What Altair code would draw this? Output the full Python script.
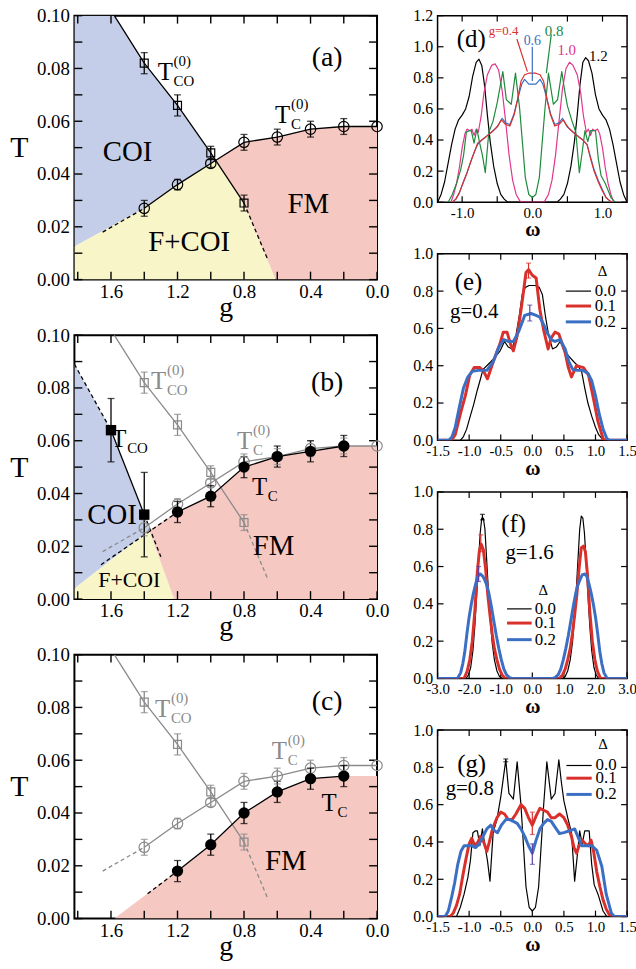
import altair as alt
import pandas as pd

FONT = "Liberation Serif"
BLACK = "#000000"
GRAY = "#8a8a8a"
REG_BLUE = "#c5cee8"
REG_YEL = "#f8f5c9"
REG_PINK = "#f6c8c2"
RED = "#d9302c"
BLUE = "#3b6fc4"
GREEN = "#1e8a3c"
MAGENTA = "#e2358d"
PURPLE = "#5a3ea6"

LW, LH = 305, 266
RW, RH = 191, 188
G_MAX = 1.82

# ---------------- data: phase diagrams (a)-(c) ----------------
tco0_g = [1.4, 1.2, 1.0, 0.8]
tco0_T = [0.082, 0.066, 0.048, 0.029]
tco0_err = [0.004, 0.004, 0.0025, 0.003]
tco0_top = [(1.58, 0.100)]
tco0_tail = [(0.8, 0.029), (0.66, 0.008)]

tc0_g = [1.4, 1.2, 1.0, 0.8, 0.6, 0.4, 0.2, 0.0]
tc0_T = [0.027, 0.036, 0.044, 0.052, 0.054, 0.057, 0.058, 0.058]
tc0_err = [0.003, 0.002, 0.0015, 0.003, 0.003, 0.003, 0.003, 0.0]
tc0_tail = [(1.4, 0.027), (1.65, 0.018)]

tco_b_g = [1.6, 1.4]
tco_b_T = [0.064, 0.032]
tco_b_err = [0.012, 0.016]
tco_b_up = [(1.82, 0.089), (1.6, 0.064)]
tco_b_down = [(1.4, 0.032), (1.30, 0.016)]

tc_b_g = [1.2, 1.0, 0.8, 0.6, 0.4, 0.2]
tc_b_T = [0.033, 0.039, 0.050, 0.054, 0.056, 0.058]
tc_b_err = [0.004, 0.004, 0.004, 0.004, 0.004, 0.004]
tc_b_tail = [(1.2, 0.033), (1.66, 0.013)]

tc_c_g = [1.2, 1.0, 0.8, 0.6, 0.4, 0.2]
tc_c_T = [0.018, 0.028, 0.040, 0.048, 0.053, 0.054]
tc_c_err = [0.004, 0.004, 0.004, 0.004, 0.004, 0.004]
tc_c_tail = [(1.2, 0.018), (1.38, 0.0094)]

# phase regions: (g, upper T, lower T)
reg_a_blue = [(1.82, 0.100, 0.0125), (1.58, 0.100, 0.0208), (1.40, 0.082, 0.027),
              (1.20, 0.066, 0.036), (1.00, 0.048, 0.044), (0.97, 0.0452, 0.0452)]
reg_a_yel = [(1.82, 0.0125, 0), (1.40, 0.027, 0), (1.20, 0.036, 0), (1.00, 0.044, 0),
             (0.97, 0.0452, 0), (0.80, 0.029, 0), (0.61, 0.0, 0)]
reg_a_pink = [(0.97, 0.0452, 0.0452), (0.80, 0.052, 0.029), (0.61, 0.0539, 0.0),
              (0.60, 0.054, 0), (0.40, 0.057, 0), (0.20, 0.058, 0), (0.0, 0.058, 0)]
reg_b_blue = [(1.82, 0.089, 0.004), (1.60, 0.064, 0.0148), (1.40, 0.032, 0.0245), (1.37, 0.026, 0.026)]
reg_b_yel = [(1.82, 0.004, 0), (1.37, 0.026, 0), (1.22, 0.0, 0)]
reg_b_pink = [(1.37, 0.026, 0.026), (1.22, 0.0322, 0), (1.20, 0.033, 0), (1.00, 0.039, 0),
              (0.80, 0.050, 0), (0.60, 0.054, 0), (0.40, 0.056, 0), (0.20, 0.058, 0), (0.0, 0.058, 0)]
reg_c_pink = [(1.58, 0.0, 0), (1.20, 0.018, 0), (1.00, 0.028, 0), (0.80, 0.040, 0),
              (0.60, 0.048, 0), (0.40, 0.053, 0), (0.20, 0.054, 0), (0.0, 0.054, 0)]

# T labels: (g, T baseline, colour, subscript, superscript)
a_T = [(1.319, 0.0755, BLACK, "CO", "(0)"), (0.613, 0.0592, BLACK, "C", "(0)")]
b_T = [(1.359, 0.0795, GRAY, "CO", "(0)"), (1.598, 0.0575, BLACK, "CO", ""),
       (0.842, 0.0569, GRAY, "C", "(0)"), (0.752, 0.0394, BLACK, "C", "")]
c_T = [(1.335, 0.0763, GRAY, "CO", "(0)"), (0.633, 0.0606, GRAY, "C", "(0)"),
       (0.334, 0.0406, BLACK, "C", "")]
a_lab = [(1.50, 0.0484, "COI", 29), (1.13, 0.0143, "F+COI", 29), (0.414, 0.0288, "FM", 29), (0.30, 0.0838, "(a)", 28)]
b_lab = [(1.594, 0.0319, "COI", 29), (1.49, 0.0072, "F+COI", 22), (0.623, 0.020, "FM", 29), (0.30, 0.082, "(b)", 28)]
c_lab = [(0.549, 0.0219, "FM", 29), (0.30, 0.082, "(c)", 28)]

# ---------------- data: spectral functions (d)-(g) ----------------
d_g12 = [(-1.35, 0.00), (-1.30, 0.05), (-1.25, 0.13), (-1.20, 0.25), (-1.15, 0.37), (-1.10, 0.47),
         (-1.05, 0.53), (-1.00, 0.56), (-0.95, 0.60), (-0.90, 0.68), (-0.85, 0.81), (-0.80, 0.90),
         (-0.76, 0.92), (-0.72, 0.88), (-0.68, 0.75), (-0.64, 0.56), (-0.60, 0.39), (-0.55, 0.23),
         (-0.50, 0.12), (-0.45, 0.05), (-0.40, 0.02), (-0.35, 0.00), (0.35, 0.00), (0.40, 0.02),
         (0.45, 0.05), (0.50, 0.12), (0.55, 0.23), (0.60, 0.39), (0.64, 0.56), (0.68, 0.76),
         (0.72, 0.90), (0.76, 0.93), (0.80, 0.91), (0.85, 0.83), (0.90, 0.69), (0.95, 0.60),
         (1.00, 0.56), (1.05, 0.53), (1.10, 0.47), (1.15, 0.37), (1.20, 0.25), (1.25, 0.13),
         (1.30, 0.05), (1.35, 0.00)]
d_g10 = [(-1.16, 0.00), (-1.12, 0.05), (-1.08, 0.12), (-1.04, 0.22), (-1.00, 0.35), (-0.96, 0.44),
         (-0.93, 0.47), (-0.89, 0.46), (-0.86, 0.47), (-0.83, 0.43), (-0.80, 0.47), (-0.77, 0.45),
         (-0.73, 0.55), (-0.69, 0.70), (-0.64, 0.82), (-0.58, 0.88), (-0.53, 0.89), (-0.48, 0.85),
         (-0.43, 0.72), (-0.38, 0.52), (-0.33, 0.30), (-0.28, 0.14), (-0.23, 0.05), (-0.18, 0.01),
         (-0.15, 0.00), (0.15, 0.00), (0.18, 0.01), (0.23, 0.05), (0.28, 0.14), (0.33, 0.30),
         (0.38, 0.52), (0.43, 0.73), (0.48, 0.86), (0.53, 0.90), (0.58, 0.88), (0.64, 0.82),
         (0.69, 0.70), (0.73, 0.55), (0.77, 0.45), (0.80, 0.47), (0.83, 0.43), (0.86, 0.47),
         (0.89, 0.46), (0.93, 0.47), (0.96, 0.44), (1.00, 0.35), (1.04, 0.22), (1.08, 0.12),
         (1.12, 0.05), (1.16, 0.00)]
g08_d0 = [(-1.20, 0.00), (-1.14, 0.05), (-1.08, 0.12), (-1.02, 0.21), (-0.98, 0.30), (-0.94, 0.45),
          (-0.90, 0.46), (-0.87, 0.46), (-0.83, 0.38), (-0.79, 0.47), (-0.75, 0.38), (-0.71, 0.30),
          (-0.67, 0.19), (-0.62, 0.45), (-0.56, 0.52), (-0.50, 0.64), (-0.46, 0.74), (-0.42, 0.84),
          (-0.37, 0.66), (-0.30, 0.63), (-0.24, 0.83), (-0.18, 0.60), (-0.14, 0.38), (-0.10, 0.16),
          (-0.05, 0.05), (0.00, 0.03), (0.05, 0.05), (0.10, 0.16), (0.14, 0.38), (0.18, 0.60),
          (0.23, 0.83), (0.30, 0.63), (0.36, 0.66), (0.42, 0.84), (0.46, 0.72), (0.50, 0.62),
          (0.56, 0.53), (0.62, 0.45), (0.67, 0.19), (0.71, 0.32), (0.75, 0.46), (0.79, 0.39),
          (0.83, 0.46), (0.87, 0.46), (0.90, 0.46), (0.94, 0.28), (0.98, 0.17), (1.04, 0.12),
          (1.12, 0.03), (1.18, 0.00)]
g06_d0 = [(-1.14, 0.00), (-1.09, 0.02), (-1.04, 0.06), (-0.99, 0.12), (-0.93, 0.19), (-0.87, 0.27),
          (-0.82, 0.33), (-0.78, 0.37), (-0.72, 0.40), (-0.64, 0.43), (-0.56, 0.46), (-0.49, 0.49),
          (-0.43, 0.54), (-0.38, 0.51), (-0.32, 0.50), (-0.26, 0.57), (-0.20, 0.68), (-0.15, 0.76),
          (-0.11, 0.79), (-0.05, 0.76), (0.00, 0.76), (0.05, 0.76), (0.11, 0.79), (0.15, 0.76),
          (0.20, 0.68), (0.26, 0.57), (0.32, 0.50), (0.38, 0.51), (0.43, 0.54), (0.49, 0.49),
          (0.56, 0.46), (0.64, 0.43), (0.72, 0.40), (0.78, 0.37), (0.83, 0.29), (0.88, 0.21),
          (0.94, 0.14), (1.00, 0.08), (1.05, 0.03), (1.10, 0.01), (1.14, 0.00)]
g04_d0 = [(-1.14, 0.00), (-1.09, 0.02), (-1.04, 0.06), (-0.99, 0.12), (-0.93, 0.19), (-0.87, 0.27),
          (-0.82, 0.33), (-0.78, 0.38), (-0.72, 0.40), (-0.66, 0.42), (-0.58, 0.45), (-0.51, 0.48),
          (-0.44, 0.53), (-0.38, 0.50), (-0.32, 0.49), (-0.26, 0.56), (-0.21, 0.66), (-0.16, 0.78),
          (-0.11, 0.82), (-0.05, 0.83), (0.00, 0.83), (0.05, 0.83), (0.11, 0.82), (0.16, 0.78),
          (0.21, 0.66), (0.26, 0.56), (0.32, 0.49), (0.38, 0.50), (0.44, 0.53), (0.51, 0.48),
          (0.58, 0.45), (0.66, 0.42), (0.72, 0.40), (0.78, 0.37), (0.83, 0.28), (0.88, 0.20),
          (0.94, 0.13), (1.00, 0.07), (1.05, 0.03), (1.10, 0.01), (1.14, 0.00)]
e_d1 = [(-1.50, 0.00), (-1.28, 0.00), (-1.22, 0.03), (-1.14, 0.14), (-1.06, 0.24), (-0.99, 0.35),
        (-0.92, 0.39), (-0.83, 0.39), (-0.77, 0.37), (-0.71, 0.33), (-0.62, 0.42), (-0.51, 0.52),
        (-0.46, 0.58), (-0.40, 0.58), (-0.34, 0.51), (-0.30, 0.48), (-0.24, 0.56), (-0.17, 0.72),
        (-0.10, 0.90), (-0.06, 0.915), (0.00, 0.885), (0.06, 0.87), (0.12, 0.70), (0.18, 0.59),
        (0.25, 0.49), (0.30, 0.55), (0.36, 0.58), (0.42, 0.57), (0.47, 0.52), (0.52, 0.47),
        (0.57, 0.39), (0.62, 0.34), (0.70, 0.40), (0.81, 0.39), (0.89, 0.35), (0.97, 0.22),
        (1.04, 0.10), (1.12, 0.01), (1.16, 0.00), (1.50, 0.00)]
e_d2 = [(-1.50, 0.00), (-1.32, 0.00), (-1.27, 0.02), (-1.22, 0.07), (-1.16, 0.17), (-1.09, 0.28),
        (-1.02, 0.34), (-0.95, 0.37), (-0.85, 0.375), (-0.72, 0.375), (-0.62, 0.42), (-0.53, 0.50),
        (-0.45, 0.54), (-0.38, 0.53), (-0.30, 0.53), (-0.22, 0.58), (-0.12, 0.67), (-0.02, 0.68),
        (0.06, 0.67), (0.12, 0.66), (0.18, 0.62), (0.23, 0.58), (0.30, 0.54), (0.36, 0.53),
        (0.44, 0.54), (0.52, 0.49), (0.58, 0.42), (0.64, 0.38), (0.72, 0.375), (0.80, 0.375),
        (0.88, 0.36), (0.94, 0.32), (1.00, 0.24), (1.06, 0.14), (1.12, 0.06), (1.18, 0.01),
        (1.22, 0.00), (1.50, 0.00)]
f_d0 = [(-3.00, 0.00), (-2.10, 0.00), (-2.02, 0.02), (-1.95, 0.06), (-1.88, 0.15), (-1.82, 0.28),
        (-1.76, 0.45), (-1.70, 0.64), (-1.65, 0.78), (-1.60, 0.86), (-1.55, 0.86), (-1.50, 0.80),
        (-1.45, 0.65), (-1.40, 0.50), (-1.34, 0.33), (-1.27, 0.19), (-1.20, 0.10), (-1.12, 0.04),
        (-1.04, 0.01), (-0.96, 0.00), (0.96, 0.00), (1.04, 0.01), (1.12, 0.04), (1.20, 0.10),
        (1.27, 0.19), (1.34, 0.33), (1.40, 0.50), (1.45, 0.65), (1.50, 0.80), (1.55, 0.87),
        (1.60, 0.86), (1.65, 0.78), (1.70, 0.64), (1.76, 0.45), (1.82, 0.28), (1.88, 0.15),
        (1.95, 0.06), (2.02, 0.02), (2.10, 0.00), (3.00, 0.00)]
f_d1 = [(-3.00, 0.00), (-2.16, 0.00), (-2.06, 0.04), (-1.98, 0.10), (-1.90, 0.20), (-1.82, 0.36),
        (-1.75, 0.55), (-1.68, 0.68), (-1.62, 0.72), (-1.55, 0.69), (-1.48, 0.59), (-1.41, 0.45),
        (-1.34, 0.34), (-1.27, 0.24), (-1.20, 0.16), (-1.12, 0.10), (-1.04, 0.05), (-0.96, 0.02),
        (-0.86, 0.00), (0.86, 0.00), (0.96, 0.02), (1.04, 0.05), (1.12, 0.10), (1.20, 0.16),
        (1.27, 0.24), (1.34, 0.34), (1.41, 0.45), (1.48, 0.59), (1.55, 0.70), (1.62, 0.71),
        (1.68, 0.68), (1.75, 0.55), (1.82, 0.36), (1.90, 0.20), (1.98, 0.10), (2.06, 0.04),
        (2.16, 0.00), (3.00, 0.00)]
f_d2 = [(-3.00, 0.00), (-2.37, 0.00), (-2.27, 0.03), (-2.20, 0.08), (-2.14, 0.14), (-2.07, 0.24),
        (-2.00, 0.33), (-1.93, 0.40), (-1.86, 0.46), (-1.79, 0.51), (-1.72, 0.55), (-1.65, 0.56),
        (-1.58, 0.55), (-1.51, 0.53), (-1.44, 0.50), (-1.38, 0.46), (-1.30, 0.39), (-1.22, 0.31),
        (-1.14, 0.23), (-1.06, 0.16), (-0.98, 0.10), (-0.90, 0.05), (-0.82, 0.02), (-0.72, 0.005),
        (-0.64, 0.00), (0.64, 0.00), (0.72, 0.005), (0.82, 0.02), (0.90, 0.05), (0.98, 0.10),
        (1.06, 0.16), (1.14, 0.23), (1.22, 0.31), (1.30, 0.39), (1.38, 0.46), (1.44, 0.50),
        (1.51, 0.53), (1.58, 0.555), (1.65, 0.56), (1.72, 0.55), (1.79, 0.51), (1.86, 0.46),
        (1.93, 0.40), (2.00, 0.33), (2.07, 0.24), (2.14, 0.14), (2.20, 0.08), (2.27, 0.03),
        (2.37, 0.00), (3.00, 0.00)]
g_d1 = [(-1.50, 0.00), (-1.30, 0.00), (-1.25, 0.02), (-1.20, 0.06), (-1.15, 0.12), (-1.10, 0.22),
        (-1.05, 0.31), (-1.00, 0.39), (-0.96, 0.42), (-0.91, 0.38), (-0.86, 0.40), (-0.82, 0.43),
        (-0.77, 0.40), (-0.72, 0.35), (-0.68, 0.40), (-0.63, 0.47), (-0.56, 0.53), (-0.50, 0.56),
        (-0.44, 0.55), (-0.38, 0.52), (-0.32, 0.52), (-0.26, 0.55), (-0.18, 0.60), (-0.12, 0.58),
        (-0.06, 0.53), (0.00, 0.49), (0.06, 0.54), (0.12, 0.58), (0.18, 0.57), (0.24, 0.56),
        (0.30, 0.53), (0.36, 0.53), (0.43, 0.55), (0.50, 0.53), (0.56, 0.49), (0.62, 0.43),
        (0.66, 0.37), (0.70, 0.34), (0.74, 0.38), (0.79, 0.41), (0.84, 0.39), (0.89, 0.38),
        (0.93, 0.41), (0.97, 0.35), (1.02, 0.24), (1.07, 0.16), (1.12, 0.09), (1.17, 0.04),
        (1.22, 0.01), (1.27, 0.00), (1.50, 0.00)]
g_d2 = [(-1.50, 0.00), (-1.38, 0.00), (-1.33, 0.03), (-1.28, 0.10), (-1.23, 0.18), (-1.18, 0.28),
        (-1.13, 0.35), (-1.08, 0.38), (-1.02, 0.38), (-0.96, 0.38), (-0.90, 0.37), (-0.84, 0.39),
        (-0.78, 0.43), (-0.72, 0.47), (-0.66, 0.49), (-0.60, 0.46), (-0.55, 0.45), (-0.49, 0.49),
        (-0.42, 0.52), (-0.36, 0.52), (-0.30, 0.51), (-0.24, 0.50), (-0.18, 0.47), (-0.12, 0.43),
        (-0.06, 0.38), (0.00, 0.34), (0.06, 0.41), (0.12, 0.47), (0.18, 0.50), (0.24, 0.52),
        (0.30, 0.51), (0.36, 0.48), (0.43, 0.445), (0.50, 0.45), (0.59, 0.46), (0.67, 0.47),
        (0.72, 0.43), (0.78, 0.38), (0.86, 0.38), (0.94, 0.38), (1.02, 0.355), (1.10, 0.27),
        (1.17, 0.12), (1.25, 0.02), (1.30, 0.00), (1.50, 0.00)]

# error bars: (omega, low, high, colour)
e_err = [(-0.06, 0.87, 0.95, RED), (-0.04, 0.64, 0.725, PURPLE)]
f_err = [(-1.58, 0.85, 0.88, BLACK), (-1.63, 0.68, 0.77, RED), (-1.70, 0.52, 0.60, PURPLE)]
g_err = [(-0.42, 0.83, 0.845, BLACK), (0.0, 0.44, 0.56, RED), (0.0, 0.28, 0.39, PURPLE)]

DELTA = ["0.0", "0.1", "0.2"]


# ---------------- helpers ----------------
def tick_layers(X, Y, xt, yt, W, H, L, sw):
    ydf = pd.DataFrame({"t": yt})
    xdf = pd.DataFrame({"t": xt})
    base = dict(color="black", strokeWidth=sw)
    return [
        alt.Chart(ydf).mark_rule(**base).encode(y=Y("t"), x=alt.value(0), x2=alt.value(L)),
        alt.Chart(ydf).mark_rule(**base).encode(y=Y("t"), x=alt.value(W), x2=alt.value(W - L)),
        alt.Chart(xdf).mark_rule(**base).encode(x=X("t"), y=alt.value(H), y2=alt.value(H - L)),
        alt.Chart(xdf).mark_rule(**base).encode(x=X("t"), y=alt.value(0), y2=alt.value(L)),
    ]


def text_layer(X, Y, rows, align="center", baseline="middle", dx=0, dy=0, weight="normal"):
    df = pd.DataFrame(rows, columns=["x", "y", "t", "col", "fs"])
    return alt.Chart(df).mark_text(font=FONT, align=align, baseline=baseline, dx=dx, dy=dy,
                                   fontWeight=weight).encode(
        x=X("x"), y=Y("y"), text="t:N",
        size=alt.Size("fs:Q", scale=None), color=alt.Color("col:N", scale=None))


def err_layers(X, Y, rows, cap, sw):
    df = pd.DataFrame(rows, columns=["x", "lo", "hi", "col"])
    c = alt.Color("col:N", scale=None)
    return [
        alt.Chart(df).mark_rule(strokeWidth=sw).encode(x=X("x"), y=Y("lo"), y2=alt.Y2("hi"), color=c),
        alt.Chart(df).mark_tick(orient="horizontal", size=cap, thickness=sw).encode(x=X("x"), y=Y("lo"), color=c),
        alt.Chart(df).mark_tick(orient="horizontal", size=cap, thickness=sw).encode(x=X("x"), y=Y("hi"), color=c),
    ]


def left_panel(regions, solid, dashed, markers, errs, tlabels, labels):
    xs = alt.Scale(domain=[0, G_MAX], reverse=True, nice=False, zero=False)
    ys = alt.Scale(domain=[0, 0.1], nice=False, zero=False)
    xaxis = alt.Axis(values=[1.6, 1.2, 0.8, 0.4, 0.0], format=".1f", ticks=False,
                     domain=False, grid=False, labelFont=FONT, labelFontSize=19, labelPadding=3,
                     labelFlush=False, labelOverlap=False, labelColor="black",
                     title="g", titleFont=FONT, titleFontSize=28, titleFontWeight="normal",
                     titleBaseline="alphabetic", titleY=36, titleColor="black")
    yaxis = alt.Axis(values=[0, 0.02, 0.04, 0.06, 0.08, 0.10], format=".2f", ticks=False,
                     domain=False, grid=False, labelFont=FONT, labelFontSize=19, labelPadding=5,
                     labelFlush=False, labelOverlap=False, labelColor="black",
                     title="T", titleFont=FONT, titleFontSize=30, titleFontWeight="normal",
                     titleAngle=0, titleX=-56, titleY=LH / 2, titleAlign="center",
                     titleBaseline="middle", titleColor="black")

    def X(f):
        return alt.X(f, type="quantitative", scale=xs, axis=xaxis)

    def Y(f):
        return alt.Y(f, type="quantitative", scale=ys, axis=yaxis)

    layers = []
    for color, rows in regions:
        df = pd.DataFrame(rows, columns=["g", "hi", "lo"])
        layers.append(alt.Chart(df).mark_area(color=color, opacity=1, clip=True, line=False)
                      .encode(x=X("g"), y=Y("hi"), y2=alt.Y2("lo")))
    layers += tick_layers(X, Y, [1.8, 1.6, 1.4, 1.2, 1.0, 0.8, 0.6, 0.4, 0.2, 0.0],
                          [i / 100 for i in range(11)], LW, LH, 8, 1.4)
    for dash, group in ((None, solid), ([4, 3], dashed)):
        for color, rows in group:
            df = pd.DataFrame(rows, columns=["g", "T"])
            kw = dict(color=color, strokeWidth=1.3, clip=True)
            if dash:
                kw["strokeDash"] = dash
            layers.append(alt.Chart(df).mark_line(**kw).encode(x=X("g"), y=Y("T")))
    err_rows = []
    for color, gs, Ts, es in errs:
        for g, T, e in zip(gs, Ts, es):
            if e > 0:
                err_rows.append((g, T - e, T + e, color))
    layers += err_layers(X, Y, err_rows, 7, 1.3)
    for color, shape, filled, size, gs, Ts in markers:
        df = pd.DataFrame({"g": gs, "T": Ts})
        layers.append(alt.Chart(df).mark_point(shape=shape, filled=filled, size=size, opacity=1,
                                               color=color, strokeWidth=1.2)
                      .encode(x=X("g"), y=Y("T")))
    big = [(g, T, "T", c, 25) for g, T, c, sub, sup in tlabels]
    subs = [(g, T, sub, c, 15) for g, T, c, sub, sup in tlabels]
    sups = [(g, T, sup, c, 15) for g, T, c, sub, sup in tlabels if sup]
    layers.append(text_layer(X, Y, big, align="left", baseline="alphabetic"))
    layers.append(text_layer(X, Y, subs, align="left", baseline="alphabetic", dx=16, dy=6))
    if sups:
        layers.append(text_layer(X, Y, sups, align="left", baseline="alphabetic", dx=16, dy=-14))
    layers.append(text_layer(X, Y, [(g, T, t, BLACK, fs) for g, T, t, fs in labels]))
    return alt.layer(*layers).properties(
        width=LW, height=LH, view=alt.ViewBackground(stroke="black", strokeWidth=2))


def right_panel(xdom, ydom, xt_all, xt_lab, yt, curves, errs=None, legend=None, labels=(), leaders=()):
    xs = alt.Scale(domain=xdom, nice=False, zero=False)
    ys = alt.Scale(domain=ydom, nice=False, zero=False)
    xaxis = alt.Axis(values=xt_lab, ticks=False, domain=False, grid=False,
                     labelExpr="datum.value < 0 ? '-' + format(-datum.value, '.1f') : format(datum.value, '.1f')",
                     labelFont=FONT, labelFontSize=15, labelPadding=3, labelFlush=False,
                     labelOverlap=False, labelColor="black",
                     title="ω", titleFont=FONT, titleFontSize=21, titleFontWeight="bold",
                     titleBaseline="alphabetic", titleY=34, titleColor="black")
    yaxis = alt.Axis(values=yt, format=".1f", ticks=False, domain=False, grid=False,
                     labelFont=FONT, labelFontSize=16, labelPadding=5, labelFlush=False,
                     labelOverlap=False, labelColor="black", title="")

    def X(f):
        return alt.X(f, type="quantitative", scale=xs, axis=xaxis)

    def Y(f):
        return alt.Y(f, type="quantitative", scale=ys, axis=yaxis)

    layers = tick_layers(X, Y, xt_all, yt, RW, RH, 6, 1.2)
    for color, width, rows in curves:
        df = pd.DataFrame(rows, columns=["w", "v"])
        layers.append(alt.Chart(df).mark_line(color=color, strokeWidth=width, clip=True,
                                              strokeJoin="round").encode(x=X("w"), y=Y("v")))
    for x1, y1, x2, y2, color in leaders:
        df = pd.DataFrame({"x1": [x1], "y1": [y1], "x2": [x2], "y2": [y2]})
        layers.append(alt.Chart(df).mark_rule(color=color, strokeWidth=1.2)
                      .encode(x=X("x1"), y=Y("y1"), x2=alt.X2("x2"), y2=alt.Y2("y2")))
    if errs:
        layers += err_layers(X, Y, errs, 5, 1.2)
    if legend:
        (tx, ty), x1, x2, xl, ys_ = legend
        cols = [BLACK, RED, BLUE]
        widths = [1.2, 3, 3]
        for yy, c, w in zip(ys_, cols, widths):
            df = pd.DataFrame({"x1": [x1], "x2": [x2], "y": [yy]})
            layers.append(alt.Chart(df).mark_rule(color=c, strokeWidth=w)
                          .encode(x=X("x1"), x2=alt.X2("x2"), y=Y("y")))
        layers.append(text_layer(X, Y, [(tx, ty, "Δ", BLACK, 15)]))
        layers.append(text_layer(X, Y, [(xl, yy, t, BLACK, 17) for yy, t in zip(ys_, DELTA)],
                                 align="left"))
    if labels:
        layers.append(text_layer(X, Y, list(labels)))
    return alt.layer(*layers).properties(width=RW, height=RH)


# ---------------- panels ----------------
co0 = tco0_top + list(zip(tco0_g, tco0_T))
c0 = list(zip(tc0_g, tc0_T))

pa = left_panel(
    regions=[(REG_BLUE, reg_a_blue), (REG_YEL, reg_a_yel), (REG_PINK, reg_a_pink)],
    solid=[(BLACK, co0), (BLACK, c0)],
    dashed=[(BLACK, tco0_tail), (BLACK, tc0_tail)],
    markers=[(BLACK, "square", False, 64, tco0_g, tco0_T), (BLACK, "circle", False, 110, tc0_g, tc0_T)],
    errs=[(BLACK, tco0_g, tco0_T, tco0_err), (BLACK, tc0_g, tc0_T, tc0_err)],
    tlabels=a_T, labels=a_lab)

pb = left_panel(
    regions=[(REG_BLUE, reg_b_blue), (REG_YEL, reg_b_yel), (REG_PINK, reg_b_pink)],
    solid=[(GRAY, co0), (GRAY, c0), (BLACK, list(zip(tco_b_g, tco_b_T))), (BLACK, list(zip(tc_b_g, tc_b_T)))],
    dashed=[(GRAY, tco0_tail), (GRAY, tc0_tail), (BLACK, tco_b_up), (BLACK, tco_b_down), (BLACK, tc_b_tail)],
    markers=[(GRAY, "square", False, 64, tco0_g, tco0_T), (GRAY, "circle", False, 110, tc0_g, tc0_T),
             (BLACK, "square", True, 110, tco_b_g, tco_b_T), (BLACK, "circle", True, 130, tc_b_g, tc_b_T)],
    errs=[(GRAY, tco0_g, tco0_T, tco0_err), (GRAY, tc0_g, tc0_T, tc0_err),
          (BLACK, tco_b_g, tco_b_T, tco_b_err), (BLACK, tc_b_g, tc_b_T, tc_b_err)],
    tlabels=b_T, labels=b_lab)

pc = left_panel(
    regions=[(REG_PINK, reg_c_pink)],
    solid=[(GRAY, co0), (GRAY, c0), (BLACK, list(zip(tc_c_g, tc_c_T)))],
    dashed=[(GRAY, tco0_tail), (GRAY, tc0_tail), (BLACK, tc_c_tail)],
    markers=[(GRAY, "square", False, 64, tco0_g, tco0_T), (GRAY, "circle", False, 110, tc0_g, tc0_T),
             (BLACK, "circle", True, 130, tc_c_g, tc_c_T)],
    errs=[(GRAY, tco0_g, tco0_T, tco0_err), (GRAY, tc0_g, tc0_T, tc0_err),
          (BLACK, tc_c_g, tc_c_T, tc_c_err)],
    tlabels=c_T, labels=c_lab)

Y6 = [0, 0.2, 0.4, 0.6, 0.8, 1.0, 1.2]
Y5 = [0, 0.2, 0.4, 0.6, 0.8, 1.0]
X15 = [-1.5, -1.0, -0.5, 0.0, 0.5, 1.0, 1.5]

pd_ = right_panel(
    [-1.35, 1.35], [0, 1.2], [-1.0, -0.5, 0.0, 0.5, 1.0], [-1.0, 0.0, 1.0], Y6,
    curves=[(BLACK, 1.2, d_g12), (MAGENTA, 1.2, d_g10), (GREEN, 1.2, g08_d0),
            (BLUE, 1.2, g06_d0), (RED, 1.2, g04_d0)],
    leaders=[(-0.22, 1.05, -0.07, 0.84, RED), (0.0, 1.00, 0.0, 0.78, BLUE), (0.27, 1.08, 0.20, 0.83, GREEN)],
    labels=[(-0.87, 1.05, "(d)", BLACK, 25), (-0.41, 1.10, "g=0.4", RED, 13),
            (0.0, 1.035, "0.6", BLUE, 14), (0.31, 1.10, "0.8", GREEN, 15),
            (0.49, 0.98, "1.0", MAGENTA, 15), (0.94, 0.94, "1.2", BLACK, 15)])

pe = right_panel(
    [-1.5, 1.5], [0, 1.0], X15, X15, Y5,
    curves=[(BLACK, 1.2, g04_d0), (RED, 3, e_d1), (BLUE, 3, e_d2)],
    errs=e_err,
    legend=((1.11, 0.91), 0.53, 0.93, 0.99, [0.80, 0.72, 0.635]),
    labels=[(-1.01, 0.85, "(e)", BLACK, 25), (-0.92, 0.69, "g=0.4", BLACK, 21)])

pf = right_panel(
    [-3.0, 3.0], [0, 1.0], [-3, -2, -1, 0, 1, 2, 3], [-3, -2, -1, 0, 1, 2, 3], Y5,
    curves=[(BLACK, 1.2, f_d0), (RED, 3, f_d1), (BLUE, 3, f_d2)],
    errs=f_err,
    legend=((0.35, 0.475), -0.80, -0.02, 0.08, [0.373, 0.297, 0.208]),
    labels=[(-0.59, 0.83, "(f)", BLACK, 25), (-0.09, 0.675, "g=1.6", BLACK, 21)])

pg = right_panel(
    [-1.5, 1.5], [0, 1.0], X15, X15, Y5,
    curves=[(BLACK, 1.2, g08_d0), (RED, 3, g_d1), (BLUE, 3, g_d2)],
    errs=g_err,
    legend=((1.12, 0.925), 0.54, 0.94, 1.0, [0.81, 0.742, 0.655]),
    labels=[(-0.96, 0.82, "(g)", BLACK, 25), (-0.99, 0.685, "g=0.8", BLACK, 21)])

left_col = alt.VConcatChart(vconcat=[pa, pb, pc], spacing=56, bounds="flush")
right_col = alt.VConcatChart(vconcat=[pd_, pe, pf, pg], spacing=52, bounds="flush")
chart = alt.HConcatChart(hconcat=[left_col, right_col], spacing=22).properties(
    padding={"left": 8, "top": 2, "right": -2, "bottom": 0})
chart = chart.configure(font=FONT, background="white",
                        view=alt.ViewConfig(stroke="black", strokeWidth=1.5))

chart.save("out.html", embed_options={"renderer": "svg", "actions": False})
